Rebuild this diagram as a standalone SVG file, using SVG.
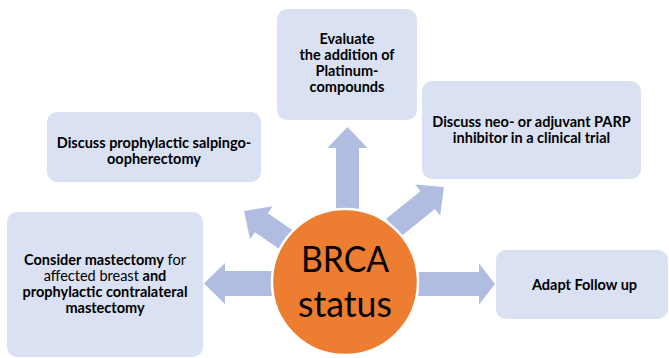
<svg xmlns="http://www.w3.org/2000/svg" width="669" height="358" viewBox="0 0 669 358">
<defs>
<style>
.box{fill:#dae1f2;}
.arr{fill:#b0bde0;}
text{font-family:Lato,"Open Sans","Liberation Sans",sans-serif;font-size:14.5px;fill:#000;text-anchor:middle;}
.b{font-weight:bold;}
.big{font-size:36px;font-weight:normal;}
</style>
</defs>
<rect width="669" height="358" fill="#ffffff"/>
<g id="connectors">
<path class="arr" transform="translate(204,283.5) rotate(180)" d="M0,0 L-21,-20.5 L-21,-12.5 L-72,-12.5 L-72,12.5 L-21,12.5 L-21,20.5 Z"/>
<path class="arr" transform="translate(495,284) rotate(0)" d="M0,0 L-16,-20.5 L-16,-12 L-78,-12 L-78,12 L-16,12 L-16,20.5 Z"/>
<path class="arr" transform="translate(347.5,127) rotate(-90)" d="M0,0 L-21,-20 L-21,-11.5 L-86,-11.5 L-86,11.5 L-21,11.5 L-21,20 Z"/>
<path class="arr" transform="translate(244,211) rotate(-145.7)" d="M0,0 L-21,-20 L-21,-11.5 L-55,-11.5 L-55,11.5 L-21,11.5 L-21,20 Z"/>
<path class="arr" transform="translate(444,187) rotate(-38.8)" d="M0,0 L-21,-20 L-21,-11.5 L-65,-11.5 L-65,11.5 L-21,11.5 L-21,20 Z"/>
</g>
<g id="node-mastectomy">
<rect class="box" x="7" y="212" width="196" height="145" rx="10"/>
<text x="105" y="265"><tspan class="b">Consider mastectomy</tspan> for</text>
<text x="105" y="281">affected breast <tspan class="b">and</tspan></text>
<text x="105" y="297" class="b">prophylactic contralateral</text>
<text x="105" y="313" class="b">mastectomy</text>
</g>
<g id="node-platinum">
<rect class="box" x="277" y="9" width="140" height="111" rx="10"/>
<text x="347" y="44" class="b">Evaluate</text>
<text x="347" y="60" class="b">the addition of</text>
<text x="347" y="76" class="b">Platinum-</text>
<text x="347" y="92" class="b">compounds</text>
</g>
<g id="node-parp">
<rect class="box" x="422" y="81" width="219" height="98" rx="10"/>
<text x="531.5" y="127" class="b">Discuss neo- or adjuvant PARP</text>
<text x="531.5" y="143" class="b">inhibitor in a clinical trial</text>
</g>
<g id="node-salpingo">
<rect class="box" x="47" y="112" width="214" height="70" rx="10"/>
<text x="154" y="148" class="b">Discuss prophylactic salpingo-</text>
<text x="154" y="164" class="b">oopherectomy</text>
</g>
<g id="node-followup">
<rect class="box" x="496" y="250" width="172" height="69" rx="10"/>
<text x="584.5" y="290" class="b">Adapt Follow up</text>
</g>
<g id="node-brca">
<circle cx="345" cy="282" r="73" fill="#ed7d31" stroke="#ffffff" stroke-width="2.5"/>
<text x="345" y="272" class="big" textLength="88" lengthAdjust="spacingAndGlyphs">BRCA</text>
<text x="345" y="317" class="big" textLength="94" lengthAdjust="spacingAndGlyphs">status</text>
</g>
</svg>
